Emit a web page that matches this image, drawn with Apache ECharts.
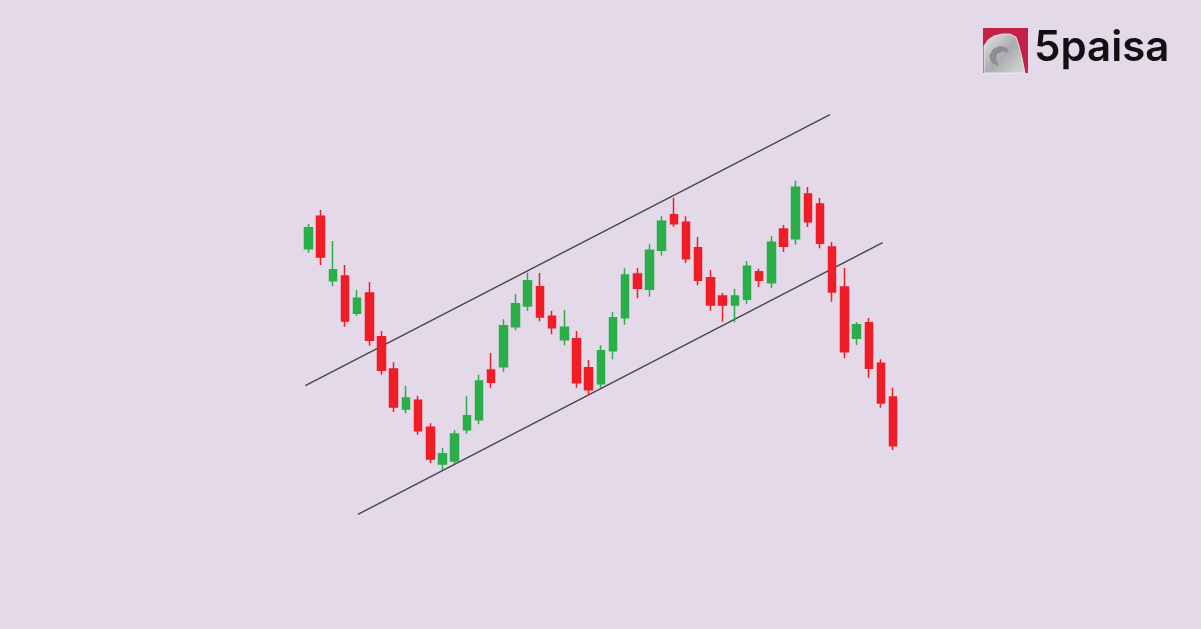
<!DOCTYPE html>
<html>
<head>
<meta charset="utf-8">
<script src="https://cdn.jsdelivr.net/npm/echarts@6/dist/echarts.min.js"></script>
<style>
html,body{margin:0;padding:0;background:#e4d9e9;}
#chart{width:1201px;height:629px;}
</style>
</head>
<body>
<div id="chart"></div>
<script>
// Candles: [open, close, low, high] (price units)
const categories = Array.from({length: 49}, (_, i) => 'D' + (i + 1));
const opens  = [380.3,412.7,348.3,353,315.7,336,292.3,260,220,228.7,201.7,165,168,199.3,209.3,259,262.3,302.3,323,342.3,312.7,289.3,290.3,261.3,245.3,278.3,311.3,355,339.7,378.7,414.3,406.7,381.3,351.3,333,324,329.7,357.3,346.3,400,390.3,435,425,382,342,290.7,306.3,265.7,232];
const closes = [401.3,372,359.3,308,330.7,288.7,258.7,222,231,198.3,170,175.3,195,213.3,248,246.7,303.3,325.3,348.3,312,301.3,301.7,246.3,239.3,278.3,311.3,354,340.7,378.7,407.7,405.3,370.3,348.7,324,324,333,362.7,348.7,386.7,382.7,441.7,407.3,385.7,337,277.3,304.3,260.7,226,183.3];
const lows   = [376.3,364,342.7,302.3,313.3,283.3,254.3,217,215.7,194.3,166,159,165,195.3,204.7,241.3,257.3,298.7,318,307.7,294.7,283.7,241.3,234,241,269.7,304.3,330.7,332.3,373.3,402.3,366,343.7,318.3,307.3,306.7,325.3,342,340.7,377,384.3,402,380.7,327.3,270.7,284,251.3,221.3,179];
const highs  = [405,419,388,364,339,347,298,266.7,243,233.3,205.7,181,199,232.7,254.3,276,309.7,335,356.3,356,318.3,319,298,269,283.7,317,360.7,361,384.7,412.7,431.3,412.7,392,359,336,340.3,368,360.3,393,404,448.3,442,431,387,361,307,311,269.7,241.3];
// Channel trend lines: [index position, price]
const upperLine = [[-0.26, 243.3], [42.82, 514.3]];
const lowerLine = [[4.06, 114.7], [47.14, 386.3]];

const candleData = opens.map((o, i) => [o, closes[i], lows[i], highs[i]]);

const chart = echarts.init(document.getElementById('chart'), null, {renderer: 'canvas'});
const GREEN = '#2aae4a', RED = '#ee1d26';
chart.setOption({
  backgroundColor: '#e4d9e9',
  animation: false,
  grid: {left: 302.4, right: 301.8, top: 0, bottom: 0},
  xAxis: [
    {type: 'category', data: categories, boundaryGap: true, show: false},
    {type: 'value', min: -0.5, max: 48.5, show: false}
  ],
  yAxis: {type: 'value', min: 0, max: 629, show: false},
  series: [
    {
      type: 'line', xAxisIndex: 1, data: upperLine, symbol: 'none',
      lineStyle: {color: '#474747', width: 1.4}, z: 1
    },
    {
      type: 'line', xAxisIndex: 1, data: lowerLine, symbol: 'none',
      lineStyle: {color: '#474747', width: 1.4}, z: 1
    },
    {
      type: 'candlestick', xAxisIndex: 0, data: candleData, barWidth: 8, z: 2,
      itemStyle: {color: GREEN, color0: RED, borderColor: GREEN, borderColor0: RED, borderWidth: 1.5}
    }
  ],
  graphic: [
    {type: 'rect', shape: {x: 983, y: 28, width: 45, height: 45}, style: {fill: '#c4204a'}},
    {
      type: 'polygon',
      shape: {points: [[984,73],[984,46],[988,40],[994,36],[1002,34],[1010,34],[1016,37],[1019,46],[1022,58],[1025,73]]},
      style: {
        fill: {type: 'linear', x: 0, y: 0, x2: 1, y2: 1, colorStops: [
          {offset: 0, color: '#e8e8ea'}, {offset: 0.5, color: '#a9abae'}, {offset: 1, color: '#dadbdd'}
        ]},
        stroke: '#f2f2f2', lineWidth: 0.8
      }
    },
    {
      type: 'polygon',
      shape: {points: [[989,56],[993,49],[1000,46],[1007,48],[1009,53],[1003,51],[997,54],[996,60],[999,66],[992,63]]},
      style: {fill: '#8b8d91'}
    },
    {
      type: 'text', x: 1034, y: 27,
      style: {text: '5paisa', font: '600 42px Inter, "Noto Sans", sans-serif', fill: '#111111'}
    }
  ]
});
</script>
</body>
</html>
